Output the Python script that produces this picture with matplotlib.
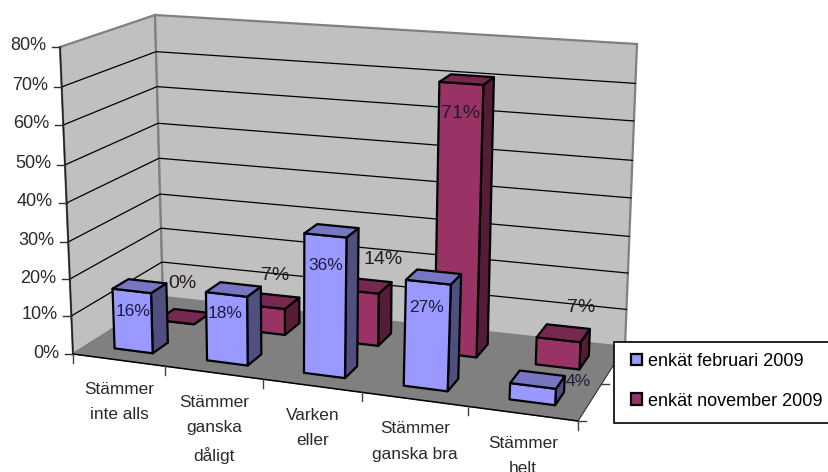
import numpy as np
import matplotlib
matplotlib.use('Agg')
import matplotlib.pyplot as plt
from matplotlib.patches import Patch, Polygon, Rectangle

plt.rcParams['font.family'] = ['Liberation Sans', 'DejaVu Sans']

categories = ['Stämmer\ninte alls', 'Stämmer\nganska\ndåligt', 'Varken\neller',
              'Stämmer\nganska bra', 'Stämmer\nhelt']
feb_2009 = [16, 18, 36, 27, 4]
nov_2009 = [0, 7, 14, 71, 7]
series_names = ['enkät februari 2009', 'enkät november 2009']
y_ticks = [0, 10, 20, 30, 40, 50, 60, 70, 80]
Z_MAX = 80

# corners of the chart box in pixels: front-left, front-right, back-right, back-left
FLOOR = np.array([(73, 354), (578, 421), (625, 347), (163, 297)], float)
TOP = np.array([(60, 47), (597, 82), (637, 44), (155, 15)], float)
U_STOPS = [0, 0.182, 0.376, 0.572, 0.782, 1]
Z_STOPS = [0, 0.124, 0.244, 0.365, 0.492, 0.616, 0.746, 0.870, 1]

BAR_U = (0.30, 0.72)
BLUE_V = (0.16, 0.34)
RED_V = (0.65, 0.84)

# data labels sit where the original put them, not on a fixed rule
FEB_LABEL_POS = [(133, 312), (225, 314), (326, 265), (427, 308), (578, 381)]
NOV_LABEL_POS = [(182, 283), (275, 276), (383, 259), (461, 114), (581, 308)]


def project(u, v, z=0):
    # category position u, depth v, value z -> pixel
    s = np.interp(u, range(6), U_STOPS)
    h = np.interp(z, y_ticks, Z_STOPS)
    weights = np.array([(1 - s) * (1 - v), s * (1 - v), s * v, (1 - s) * v])
    low, high = weights @ FLOOR, weights @ TOP
    return low + (high - low) * h


fig = plt.figure(figsize=(8.29, 4.72), dpi=100)
ax = fig.add_axes([0, 0, 1, 1])
ax.set_xlim(0, 829)
ax.set_ylim(472, 0)
ax.axis('off')

# walls and floor
ax.add_patch(Polygon([project(0, 0), project(0, 1), project(0, 1, Z_MAX), project(0, 0, Z_MAX)],
                     fc='#C0C0C0', ec='#808080', lw=1.6, zorder=1))
ax.add_patch(Polygon([project(0, 1), project(5, 1), project(5, 1, Z_MAX), project(0, 1, Z_MAX)],
                     fc='#C0C0C0', ec='#808080', lw=1.6, zorder=1))
ax.add_patch(Polygon([project(0, 0), project(5, 0), project(5, 1), project(0, 1)],
                     fc='#808080', ec='#808080', lw=0.8, zorder=2))

for t in y_ticks[1:-1]:
    pts = np.array([project(0, 0, t), project(0, 1, t), project(5, 1, t)])
    ax.plot(pts[:, 0], pts[:, 1], color='black', lw=0.9, zorder=3)

# axis lines and ticks
line = np.array([project(0, 0), project(0, 0, Z_MAX)])
ax.plot(line[:, 0], line[:, 1], color='#202020', lw=1.1, zorder=3)
line = np.array([project(0, 0), project(5, 0)])
ax.plot(line[:, 0], line[:, 1], color='black', lw=1.1, zorder=3)
line = np.array([project(5, 0), project(5, 1)])
ax.plot(line[:, 0], line[:, 1], color='#303030', lw=0.7, zorder=2.5)
for t in y_ticks:
    x, y = project(0, 0, t)
    ax.plot([x - 8, x], [y, y], color='#303030', lw=1, zorder=3)
    ax.text(x - 14, y - 1, f'{t}%', ha='right', va='center', fontsize=13, color='#2a2a2a')
for i in range(6):
    x, y = project(i, 0)
    ax.plot([x, x], [y, y + 9], color='#404040', lw=1, zorder=3)
for v in (0, 0.5):
    x, y = project(5, v)
    ax.plot([x, x + 8], [y, y], color='#404040', lw=1, zorder=3)
for i, name in enumerate(categories):
    x, y = project(i + 0.5, 0)
    ax.text(x, y + 22, name, ha='center', va='top', fontsize=12.4, color='#2a2a2a',
            linespacing=1.85, zorder=3)


def draw_bar(i, value, v_range, front, top, side, z):
    u0, u1 = i + BAR_U[0], i + BAR_U[1]
    v0, v1 = v_range
    style = dict(ec='black', lw=1.6, joinstyle='round', zorder=z)
    ax.add_patch(Polygon([project(u1, v0), project(u1, v1), project(u1, v1, value), project(u1, v0, value)],
                         fc=side, **style))
    ax.add_patch(Polygon([project(u0, v0), project(u1, v0), project(u1, v0, value), project(u0, v0, value)],
                         fc=front, **style))
    ax.add_patch(Polygon([project(u0, v0, value), project(u1, v0, value), project(u1, v1, value), project(u0, v1, value)],
                         fc=top, **style))


for i, value in enumerate(nov_2009):
    draw_bar(i, value, RED_V, '#993366', '#772850', '#551C38', 4 + i * 0.1)
for i, value in enumerate(feb_2009):
    draw_bar(i, value, BLUE_V, '#9999FF', '#7676C5', '#4F4F80', 5 + i * 0.1)

for value, (x, y) in zip(feb_2009, FEB_LABEL_POS):
    ax.text(x, y, f'{value}%', ha='center', va='center', fontsize=12.5, color='#1c1c3c', zorder=8)
for value, (x, y) in zip(nov_2009, NOV_LABEL_POS):
    ax.text(x, y, f'{value}%', ha='center', va='center', fontsize=14, color='#241a24', zorder=8)

# legend box runs off the right edge in the original, so the frame is drawn apart
ax.add_patch(Rectangle((614, 342), 220, 81, fc='white', ec='black', lw=1.2, zorder=9))
handles = [Patch(fc='#9999FF', ec='black', lw=1.6), Patch(fc='#993366', ec='black', lw=1.6)]
leg = ax.legend(handles, series_names, loc='upper left', bbox_to_anchor=(631 / 829, 1 - 353 / 472),
                borderaxespad=0, borderpad=0, frameon=False, fontsize=13,
                handlelength=0.61, handleheight=0.61, handletextpad=0.35, labelspacing=1.25)
leg.set_zorder(10)

fig.savefig('out.png', dpi=100)
